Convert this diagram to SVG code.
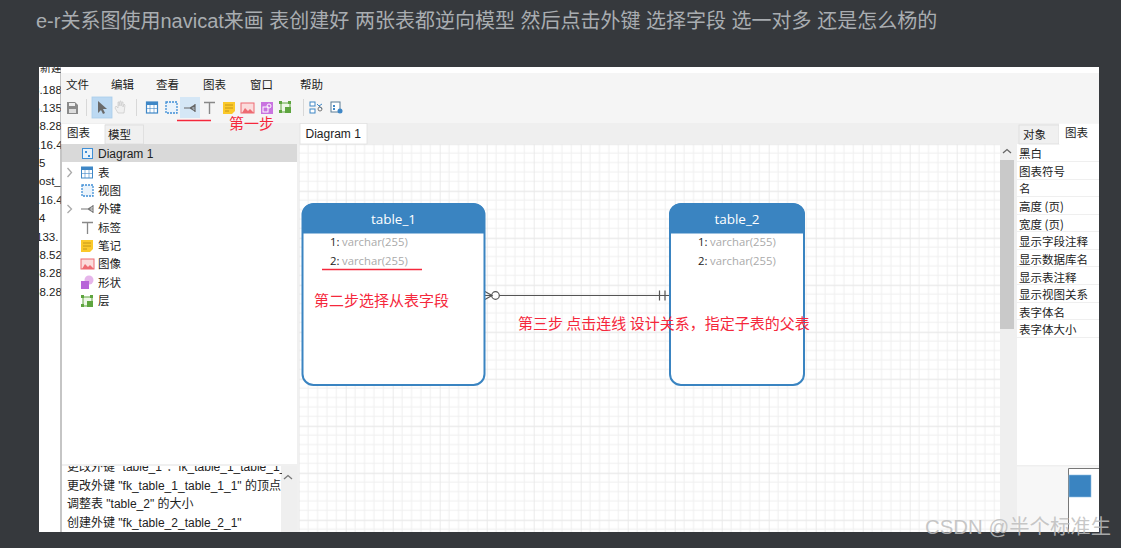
<svg xmlns="http://www.w3.org/2000/svg" width="1121" height="548" viewBox="0 0 1121 548">
<style>
text{font-family:"Liberation Sans","Noto Sans CJK SC",sans-serif;fill:#222}
.ui{font-size:11.5px}
.h{font-size:12px}
.cjk{font-family:"Noto Sans CJK SC","Liberation Sans",sans-serif}
.red{font-family:"Noto Sans CJK SC",sans-serif;font-size:15px;fill:#f5283c}
.redl{stroke:#f5283c;stroke-width:1.5;fill:none}
.tt{font-family:"Open Sans","Liberation Sans",sans-serif;font-size:13.5px;fill:#fff;text-anchor:middle}
.f{font-family:"Open Sans","Liberation Sans",sans-serif;font-size:11.3px;fill:#aaa}
.n{font-family:"Open Sans","Liberation Sans",sans-serif;font-size:11.3px;fill:#222}
.rowl{stroke:#efefef;stroke-width:1}
.sep{stroke:#d8d8d8;stroke-width:1}
</style>
<defs>
<pattern id="grid" x="298.7" y="143.7" width="47" height="47" patternUnits="userSpaceOnUse">
<rect width="47" height="47" fill="#fff"/>
<path d="M9.4 0V47M18.8 0V47M28.2 0V47M37.6 0V47M0 9.4H47M0 18.8H47M0 28.2H47M0 37.6H47" stroke="#f0f0f0" stroke-width="1" fill="none"/>
<path d="M0 0V47" stroke="#e6e6e6" stroke-width="1.600" fill="none"/>
<path d="M0 0H47" stroke="#e9e9e9" stroke-width="2.400" fill="none"/>
</pattern>
<clipPath id="strip"><rect x="39" y="67" width="22" height="465"/></clipPath>
<clipPath id="hist"><rect x="62" y="466" width="220" height="66"/></clipPath>
</defs>

<rect width="1121" height="548" fill="#36393d"/>
<text x="36" y="28" font-size="20" style="fill:#a9adb1;font-family:'Liberation Sans','Noto Sans CJK SC',sans-serif">e-r关系图使用navicat来画 表创建好 两张表都逆向模型 然后点击外键 选择字段 选一对多 还是怎么杨的</text>

<!-- screenshot background -->
<rect x="39" y="67" width="1060" height="465" fill="#fff"/>
<g clip-path="url(#strip)" font-size="11.5">
<text x="40" y="72" class="cjk" font-size="11">新建</text>
<text x="33" y="94">3.188</text>
<text x="33" y="112">6.135</text>
<text x="33" y="130">58.28</text>
<text x="37" y="149">.16.4</text>
<text x="39" y="167">5</text>
<text x="39" y="185">ost_</text>
<text x="37" y="204">.16.4</text>
<text x="39" y="222">4</text>
<text x="36" y="241">133.</text>
<text x="33" y="259">58.52</text>
<text x="33" y="277">58.28</text>
<text x="33" y="296">58.28</text>
</g>
<rect x="60.500" y="67" width="1" height="465" fill="#8c8c8c"/>

<!-- window chrome -->
<rect x="61" y="67" width="1038" height="6" fill="#fff"/>
<rect x="61" y="73" width="1038" height="50" fill="#f5f5f5"/>
<rect x="61" y="123" width="1038" height="21" fill="#efefef"/>
<g id="menu">
<text x="66" y="89" class="cjk ui">文件</text>
<text x="111" y="89" class="cjk ui">编辑</text>
<text x="156" y="89" class="cjk ui">查看</text>
<text x="203" y="89" class="cjk ui">图表</text>
<text x="250" y="89" class="cjk ui">窗口</text>
<text x="300" y="89" class="cjk ui">帮助</text>
</g>

<!-- toolbar -->
<g id="toolbar">
<path d="M67 102h8l3 3v9H67z" fill="#8a8a8a"/><rect x="69" y="103" width="6" height="3" fill="#eee"/><rect x="69" y="109" width="7" height="4" fill="#ddd"/>
<path class="sep" d="M86.500 99V116M136.500 99V116"/>
<rect x="92" y="97" width="20" height="21" fill="#bcd9f2" stroke="#a9cdeb" stroke-width="0.800"/>
<path d="M98 101V113l3-3 2 4 2-1-2-4h4z" fill="#6a6a6a"/>
<path d="M115 108l3 5h6l1-8-1-1-1 3v-5h-1l-1 4v-5h-1l-1 5v-4h-1v6l-2-2z" fill="#f0f0f0" stroke="#c9c9c9" stroke-width="0.700"/>
<rect x="146.500" y="102" width="11" height="11" fill="#fff" stroke="#3f87c6" stroke-width="1.200"/><rect x="146.500" y="102" width="11" height="3" fill="#3f87c6"/><path d="M146.500 108.500H157.500M150 105V113M154 105V113" stroke="#3f87c6" stroke-width="0.600"/>
<rect x="166" y="102" width="11" height="11" fill="#eaf3fb" stroke="#3f8fd6" stroke-width="1.300" stroke-dasharray="2 1"/>
<rect x="180" y="97" width="20" height="21" fill="#d5e7f6"/>
<path d="M184 108H195M195 104V112M190 108L195 105M190 108L195 111" stroke="#666" stroke-width="1.200" fill="none"/>
<path d="M204 102.500H215M209.500 102.500V114" stroke="#888" stroke-width="1.400" fill="none"/>
<path d="M223 102h12v9l-3 3h-9z" fill="#fbc92b"/><path d="M225 105h8M225 108h8M225 111h4" stroke="#b78b12" stroke-width="0.800"/>
<rect x="241" y="103" width="13" height="10" fill="#fbdcdc" stroke="#ee6b73"/><path d="M242 113l3-5 3 3 2-2 4 4z" fill="#ee6b73"/>
<rect x="261" y="102" width="12" height="12" fill="#c974e0"/><rect x="263" y="107" width="5" height="5" fill="none" stroke="#fff"/><circle cx="269" cy="106" r="2" fill="none" stroke="#fff"/>
<rect x="281" y="103" width="9" height="9" fill="#eef7e8" stroke="#5ea53f"/><path d="M279 101h3v3h-3zM288 101h3v3h-3zM279 110h3v3h-3zM288 110h3v3h-3z" fill="#5ea53f"/><rect x="285" y="107" width="6" height="6" fill="#5ea53f"/>
<path class="sep" d="M303.500 99V116"/>
<rect x="310" y="102" width="5" height="4" fill="#fff" stroke="#3f87c6"/><rect x="310" y="109" width="5" height="4" fill="#fff" stroke="#3f87c6"/><path d="M317 104l5 5M322 104l-3 2" stroke="#3f87c6" fill="none"/><circle cx="320" cy="109" r="2" fill="none" stroke="#777"/>
<rect x="331" y="102" width="9" height="10" fill="#fff" stroke="#5b7d96"/><path d="M333 105h2v2h-2zM333 108h2v2h-2z" fill="#3f87c6"/><circle cx="340" cy="111" r="2.500" fill="#3f87c6"/>
</g>

<!-- left panel -->
<g id="left-panel">
<rect x="62" y="123" width="235" height="21" fill="#efefef"/>
<rect x="62" y="124" width="43" height="20" fill="#fff"/>
<rect x="105" y="125" width="38.500" height="19" fill="#f0f0f0" stroke="#dcdcdc" stroke-width="0.800"/>
<text x="67" y="137" class="cjk ui">图表</text>
<text x="108" y="139" class="cjk ui">模型</text>
<rect x="62" y="144" width="235" height="322" fill="#fff"/>
<rect x="62" y="144" width="235" height="18" fill="#d9d9d9"/>
<rect x="82.500" y="148.500" width="10" height="10" fill="#eaf3fb" stroke="#3f8fd6"/><path d="M85 151h2v2h-2zM88 155h2v2h-2z" fill="#3f8fd6"/>
<text x="98" y="158" class="h">Diagram 1</text>
<path d="M67.500 168l4 4.500-4 4.500M67.500 205l4 4-4 4" stroke="#aaa" stroke-width="1.300" fill="none"/>
<rect x="81.500" y="167" width="11" height="11" fill="#fff" stroke="#3f87c6"/><rect x="81.500" y="167" width="11" height="3" fill="#3f87c6"/><path d="M81.500 173.500H92.500M85 170V178M89 170V178" stroke="#3f87c6" stroke-width="0.600"/>
<text x="98" y="177" class="cjk ui">表</text>
<rect x="82" y="185" width="11" height="11" fill="#eaf3fb" stroke="#3f8fd6" stroke-width="1.300" stroke-dasharray="2 1"/>
<text x="98" y="195" class="cjk ui">视图</text>
<path d="M81 209H93M93 205V213M88 209L93 206M88 209L93 212" stroke="#777" stroke-width="1.100" fill="none"/>
<text x="98" y="213" class="cjk ui">外键</text>
<path d="M82 222.500H93M87.500 222.500V234" stroke="#888" stroke-width="1.300" fill="none"/>
<text x="98" y="232" class="cjk ui">标签</text>
<path d="M81 240h12v9l-3 3h-9z" fill="#fbc92b"/><path d="M83 243h8M83 246h8M83 249h4" stroke="#b78b12" stroke-width="0.800"/>
<text x="98" y="250" class="cjk ui">笔记</text>
<rect x="81" y="259" width="13" height="10" fill="#fbdcdc" stroke="#ee6b73"/><path d="M82 269l3-5 3 3 2-2 4 4z" fill="#ee6b73"/>
<text x="98" y="268" class="cjk ui">图像</text>
<circle cx="89" cy="280" r="4.500" fill="#e5b5ea"/><rect x="81" y="281" width="8" height="8" fill="#b765d8"/>
<text x="98" y="287" class="cjk ui">形状</text>
<rect x="83" y="297" width="9" height="9" fill="#eef7e8" stroke="#5ea53f"/><path d="M81 295h3v3h-3zM90 295h3v3h-3zM81 304h3v3h-3zM90 304h3v3h-3z" fill="#5ea53f"/><rect x="87" y="301" width="6" height="6" fill="#5ea53f"/>
<text x="98" y="305" class="cjk ui">层</text>
</g>

<g id="step1">
<path class="redl" d="M177 120.500H211"/>
<text x="229" y="129" class="red">第一步</text>
</g>

<!-- history -->
<g id="history">
<rect x="62" y="465" width="235" height="67" fill="#fff"/>
<rect x="281" y="466" width="16" height="66" fill="#efefef"/>
<path d="M284 479l4-3.500 4 3.500" stroke="#777" stroke-width="1.300" fill="none"/>
<g clip-path="url(#hist)">
<text x="67" y="471" class="h">更改外键 "table_1"：fk_table_1_table_1_1</text>
</g>
<rect x="62" y="464" width="235" height="2" fill="#f0f0f0"/>
<text x="67" y="490" class="h">更改外键 "fk_table_1_table_1_1" 的顶点</text>
<text x="67" y="508" class="h">调整表 "table_2" 的大小</text>
<text x="67" y="527" class="h">创建外键 "fk_table_2_table_2_1"</text>
</g>

<!-- canvas -->
<rect x="297" y="123" width="722" height="21" fill="#efefef"/>
<rect x="297" y="144" width="703" height="388" fill="url(#grid)"/>
<rect x="297" y="144" width="2" height="388" fill="#f0f0f0"/>
<rect x="300" y="123.500" width="67" height="20.500" fill="#fff" stroke="#e2e2e2" stroke-width="0.800"/>
<text x="305.500" y="137.500" font-size="12">Diagram 1</text>

<!-- canvas scrollbar -->
<rect x="1000" y="144" width="17" height="388" fill="#efefef"/>
<path d="M1003 153l4-3.500 4 3.500" stroke="#666" stroke-width="1.300" fill="none"/>
<rect x="1000" y="160" width="14" height="169" fill="#c9c9c9"/>

<!-- right panel -->
<g id="right-panel">
<rect x="1017" y="144" width="82" height="322" fill="#fff"/>
<rect x="1019" y="125" width="40" height="19" fill="#f0f0f0" stroke="#dcdcdc" stroke-width="0.800"/>
<rect x="1059" y="123.500" width="40" height="20.500" fill="#fff"/>
<text x="1023" y="139" class="cjk ui">对象</text>
<text x="1065" y="137" class="cjk ui">图表</text>
<path class="rowl" d="M1017 161.500H1099M1017 179.500H1099M1017 196.500H1099M1017 214.500H1099M1017 231.500H1099M1017 249.500H1099M1017 266.500H1099M1017 284.500H1099M1017 302.500H1099M1017 319.500H1099M1017 337.500H1099"/>
<text x="1019" y="158" class="cjk ui">黑白</text>
<text x="1019" y="176" class="cjk ui">图表符号</text>
<text x="1019" y="193" class="cjk ui">名</text>
<text x="1019" y="211" class="cjk ui">高度 (页)</text>
<text x="1019" y="229" class="cjk ui">宽度 (页)</text>
<text x="1019" y="246" class="cjk ui">显示字段注释</text>
<text x="1019" y="264" class="cjk ui">显示数据库名</text>
<text x="1019" y="282" class="cjk ui">显示表注释</text>
<text x="1019" y="299" class="cjk ui">显示视图关系</text>
<text x="1019" y="317" class="cjk ui">表字体名</text>
<text x="1019" y="334" class="cjk ui">表字体大小</text>
</g>

<!-- overview -->
<g id="overview">
<rect x="1017" y="465" width="82" height="67" fill="#f7f7f7"/>
<rect x="1017" y="465" width="82" height="1.500" fill="#efefef"/>
<path d="M1068.500 532V468.500H1099V532z" fill="#fff"/>
<path d="M1068.500 532V468.500H1099" fill="none" stroke="#777" stroke-width="1"/>
<rect x="1069" y="475" width="22" height="22" fill="#3a84c1" stroke="#90bfe4" stroke-width="0.600"/>
</g>

<!-- connectors -->
<g id="connectors" fill="none" stroke="#555" stroke-width="1.200">
<path d="M484 295.500H669"/>
<circle cx="495.500" cy="295.500" r="3.800" fill="#fff"/>
<path d="M484 291L492 295.500L484 300"/>
<path d="M659.500 290.500V300.500M665 290.500V300.500"/>
</g>

<!-- tables -->
<g id="table_1">
<rect x="302.500" y="204" width="182" height="181" rx="11" fill="#fff" stroke="#3a84c1" stroke-width="2"/>
<path d="M302 233.500V214a11 11 0 0 1 11-10.500H474a11 11 0 0 1 11 10.500V233.500z" fill="#3a84c1"/>
<text x="393.500" y="224" class="tt">table_1</text>
<text x="330" y="246" class="n">1:</text><text x="342" y="246" class="f">varchar(255)</text>
<text x="330" y="265" class="n">2:</text><text x="342" y="265" class="f">varchar(255)</text>
</g>
<g id="table_2">
<rect x="670" y="204" width="134" height="181" rx="11" fill="#fff" stroke="#3a84c1" stroke-width="2"/>
<path d="M669 233.500V214a11 11 0 0 1 11-10.500H794a11 11 0 0 1 11 10.500V233.500z" fill="#3a84c1"/>
<text x="737" y="224" class="tt">table_2</text>
<text x="698" y="246" class="n">1:</text><text x="710" y="246" class="f">varchar(255)</text>
<text x="698" y="265" class="n">2:</text><text x="710" y="265" class="f">varchar(255)</text>
</g>

<!-- annotations -->
<g id="step2">
<path class="redl" d="M322 269.500H422"/>
<text x="314" y="306" class="red">第二步选择从表字段</text>
</g>
<g id="step3">
<text x="518" y="329" class="red">第三步 点击连线 设计关系，指定子表的父表</text>
</g>

<text x="925" y="534" font-size="20.400" style="fill:#bdbdbd;fill-opacity:.85;font-family:'Liberation Sans','Noto Sans CJK SC',sans-serif">CSDN @半个标准生</text>
</svg>
